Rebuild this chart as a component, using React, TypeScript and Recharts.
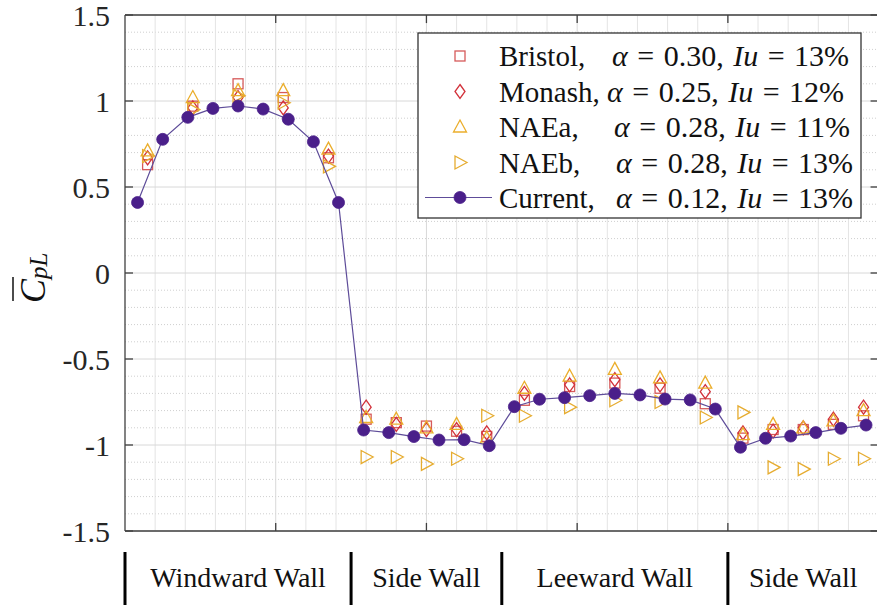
import React from 'react';
import { ScatterChart, Scatter, XAxis, YAxis, ReferenceLine } from 'recharts';

// ---------- data ----------
const currentX = [1, 2, 3, 4, 5, 6, 7, 8, 9, 10, 11, 12, 13, 14, 15, 16, 17, 18, 19, 20, 21, 22, 23, 24, 25, 26, 27, 28, 29, 30];
const currentCp = [0.41, 0.777, 0.905, 0.957, 0.971, 0.953, 0.894, 0.763, 0.41,
  -0.913, -0.928, -0.951, -0.971, -0.969, -1.004,
  -0.777, -0.734, -0.725, -0.713, -0.7, -0.709, -0.733, -0.738, -0.791,
  -1.013, -0.961, -0.948, -0.928, -0.903, -0.884];

const expX = [1.4, 3.2, 5, 6.8, 8.6, 10.1, 11.3, 12.5, 13.7, 14.9, 16.4, 18.2, 20, 21.8, 23.6, 25.1, 26.3, 27.5, 28.7, 29.9];
const bristolCp = [0.63, 0.97, 1.1, 1.02, 0.67, -0.85, -0.87, -0.89, -0.92, -0.95, -0.74, -0.66, -0.64, -0.67, -0.76, -0.96, -0.91, -0.91, -0.88, -0.83];
const monashCp = [0.67, 0.96, 1.02, 0.96, 0.68, -0.78, -0.88, -0.91, -0.91, -0.93, -0.7, -0.65, -0.62, -0.65, -0.69, -0.93, -0.92, -0.9, -0.85, -0.78];
const naeaCp = [0.71, 1.02, 1.06, 1.06, 0.72, -0.84, -0.85, -0.9, -0.88, -0.96, -0.67, -0.6, -0.56, -0.61, -0.64, -0.94, -0.88, -0.9, -0.86, -0.8];
const naebCp = [0.68, 0.95, 1.03, 0.99, 0.62, -1.07, -1.07, -1.11, -1.08, -0.83, -0.83, -0.78, -0.74, -0.75, -0.84, -0.81, -1.13, -1.14, -1.08, -1.08];

const yTicks = [-1.5, -1, -0.5, 0, 0.5, 1, 1.5];
const yMinorTicks = [-1.4, -1.3, -1.2, -1.1, -0.9, -0.8, -0.7, -0.6, -0.4, -0.3, -0.2, -0.1, 0.1, 0.2, 0.3, 0.4, 0.6, 0.7, 0.8, 0.9, 1.1, 1.2, 1.3, 1.4];
const xMajorTicks = [6.5, 12.5, 18.5, 24.5];
const xMinorTicks = [1.7, 2.9, 4.1, 5.3, 7.7, 8.9, 10.1, 11.3, 13.7, 14.9, 16.1, 17.3, 19.7, 20.9, 22.1, 23.3, 25.7, 26.9, 28.1, 29.3];
const wallNames = ['Windward Wall', 'Side Wall', 'Leeward Wall', 'Side Wall'];
const wallCenters = [5, 12.5, 20, 27.5];
const wallBounds = [0.5, 9.5, 15.5, 24.5];

const legendNames = ['Bristol,', 'Monash,', 'NAEa,', 'NAEb,', 'Current,'];
const legendAlpha = ['0.30', '0.25', '0.28', '0.28', '0.12'];
const legendIu = ['13%', '12%', '11%', '13%', '13%'];

// ---------- styles ----------
const FONT = '"Liberation Serif", "Times New Roman", serif';
const C_BRISTOL = '#D65A5A';
const C_MONASH = '#D2313A';
const C_NAEA = '#EBAE2C';
const C_NAEB = '#E6AC30';
const C_CUR = '#4A1F8A';
const C_CURLINE = '#5E4C99';
const AX = '#404040';

const X0 = 0.5, X1 = 30.5, Y0 = -1.5, Y1 = 1.5;

const toPts = (xs: number[], ys: number[]) => xs.map((x, i) => ({ x, y: ys[i] }));
const bristolData = toPts(expX, bristolCp);
const monashData = toPts(expX, monashCp);
const naeaData = toPts(expX, naeaCp);
const naebData = toPts(expX, naebCp);
const currentData = toPts(currentX, currentCp);

const SquareM = (p: any) => <rect x={p.cx - 5} y={p.cy - 5} width={10} height={10} fill="none" stroke={C_BRISTOL} strokeWidth={1.3} />;
const DiamondM = (p: any) => <path d={`M${p.cx},${p.cy - 7} L${p.cx + 5},${p.cy} L${p.cx},${p.cy + 7} L${p.cx - 5},${p.cy} Z`} fill="none" stroke={C_MONASH} strokeWidth={1.3} />;
const TriUpM = (p: any) => <path d={`M${p.cx},${p.cy - 7} L${p.cx + 6.5},${p.cy + 5} L${p.cx - 6.5},${p.cy + 5} Z`} fill="none" stroke={C_NAEA} strokeWidth={1.3} />;
const TriRightM = (p: any) => <path d={`M${p.cx + 7},${p.cy} L${p.cx - 5},${p.cy + 6.5} L${p.cx - 5},${p.cy - 6.5} Z`} fill="none" stroke={C_NAEB} strokeWidth={1.3} />;
const CircleM = (p: any) => <circle cx={p.cx} cy={p.cy} r={6} fill={C_CUR} stroke={C_CUR} strokeWidth={0.8} />;

const WallTick = (props: any) => {
  const { x, y, payload } = props;
  const v = payload.value;
  const bi = wallBounds.indexOf(v);
  if (bi >= 0) {
    return <rect x={x - 1.5} y={y + 21} width={3} height={60} fill="#000" />;
  }
  const ci = wallCenters.indexOf(v);
  return (
    <text x={x} y={y + 56} textAnchor="middle" fontFamily={FONT} fontSize={28} fill="#111">
      {wallNames[ci]}
    </text>
  );
};

const legendBaselines = [34, 69.5, 105, 140.5, 175.5];
const legendAlphaX = [195, 190, 197, 199, 199];

const LegendBox = () => (
  <svg width={445} height={187} style={{ position: 'absolute', left: 417, top: 32 }}>
    <rect x={1} y={1} width={443} height={185} fill="#fff" stroke="#333" strokeWidth={1.3} />
    {legendNames.map((n, i) => {
      const by = legendBaselines[i];
      const cy = by - 11 + 1;
      const cx = 43;
      let marker: any = null;
      if (i === 0) marker = <SquareM cx={cx} cy={cy} />;
      if (i === 1) marker = <DiamondM cx={cx} cy={cy} />;
      if (i === 2) marker = <TriUpM cx={cx} cy={cy} />;
      if (i === 3) marker = <TriRightM cx={cx} cy={cy} />;
      if (i === 4) marker = (
        <g>
          <line x1={8} x2={75} y1={cy} y2={cy} stroke={C_CURLINE} strokeWidth={1.2} />
          <CircleM cx={cx} cy={cy} />
        </g>
      );
      return (
        <g key={i}>
          {marker}
          <text x={82} y={by} fontFamily={FONT} fontSize={29} fill="#111">{n}</text>
          <text x={legendAlphaX[i]} y={by} fontFamily={FONT} fontSize={30} fill="#111" wordSpacing={2}>
            <tspan fontStyle="italic">α</tspan>
            <tspan> = {legendAlpha[i]}, </tspan>
            <tspan fontStyle="italic">Iu</tspan>
            <tspan> = {legendIu[i]}</tspan>
          </text>
        </g>
      );
    })}
  </svg>
);

const YLabel = () => (
  <svg width={80} height={605} style={{ position: 'absolute', left: 0, top: 0 }}>
    <g transform="translate(45, 303) rotate(-90)">
      <text x={0} y={0} fontFamily={FONT} fontSize={36} fontStyle="italic" fill="#111">
        C<tspan fontSize={25} dy={2}>pL</tspan>
      </text>
      <line x1={2} x2={26} y1={-32} y2={-32} stroke="#111" strokeWidth={1.5} />
    </g>
  </svg>
);

export default function App() {
  const tickLenX = 0.32;
  const tickLenY = 0.047;
  return (
    <div style={{ position: 'absolute', left: 0, top: 0, width: 877, height: 605, overflow: 'hidden', background: '#fff' }}>
      <ScatterChart width={880} height={605} margin={{ top: 15, right: 1.4, bottom: 0, left: 0 }}>
        <XAxis
          type="number"
          dataKey="x"
          domain={[X0, X1]}
          allowDataOverflow
          ticks={[0.5, 5, 9.5, 12.5, 15.5, 20, 24.5, 27.5]}
          interval={0}
          tick={<WallTick />}
          axisLine={false}
          tickLine={false}
          tickSize={0}
          tickMargin={0}
          height={74}
        />
        <YAxis
          type="number"
          dataKey="y"
          domain={[Y0, Y1]}
          allowDataOverflow
          ticks={yTicks}
          interval={0}
          axisLine={false}
          tickLine={false}
          tickSize={0}
          tickMargin={15}
          width={125}
          tick={{ fontFamily: FONT, fontSize: 30, fill: '#262626' }}
          tickFormatter={(v: number) => String(v)}
        />
        {yMinorTicks.map((v) => (
          <ReferenceLine key={'ym' + v} y={v} stroke="#CFCFCF" strokeDasharray="1 2" strokeWidth={1} />
        ))}
        {xMinorTicks.map((v) => (
          <ReferenceLine key={'xm' + v} x={v} stroke="#E4E4E4" strokeWidth={1} />
        ))}
        {yTicks.map((v) => (
          <ReferenceLine key={'yM' + v} y={v} stroke="#D8D8D8" strokeWidth={1} />
        ))}
        {xMajorTicks.map((v) => (
          <ReferenceLine key={'xM' + v} x={v} stroke="#D8D8D8" strokeWidth={1} />
        ))}
        <ReferenceLine x={X0} stroke={AX} strokeWidth={1.3} />
        <ReferenceLine x={X1} stroke={AX} strokeWidth={1.3} />
        <ReferenceLine y={Y0} stroke={AX} strokeWidth={1.3} />
        <ReferenceLine y={Y1} stroke={AX} strokeWidth={1.3} />
        {yTicks.map((v) => (
          <ReferenceLine key={'tl' + v} segment={[{ x: X0, y: v }, { x: X0 + tickLenX, y: v }]} stroke={AX} strokeWidth={1.3} />
        ))}
        {yTicks.map((v) => (
          <ReferenceLine key={'tr' + v} segment={[{ x: X1 - tickLenX, y: v }, { x: X1, y: v }]} stroke={AX} strokeWidth={1.3} />
        ))}
        {xMajorTicks.map((v) => (
          <ReferenceLine key={'tb' + v} segment={[{ x: v, y: Y0 }, { x: v, y: Y0 + tickLenY }]} stroke={AX} strokeWidth={1.3} />
        ))}
        {xMajorTicks.map((v) => (
          <ReferenceLine key={'tt' + v} segment={[{ x: v, y: Y1 }, { x: v, y: Y1 - tickLenY }]} stroke={AX} strokeWidth={1.3} />
        ))}
        <Scatter name="Bristol" data={bristolData} shape={<SquareM />} isAnimationActive={false} />
        <Scatter name="Monash" data={monashData} shape={<DiamondM />} isAnimationActive={false} />
        <Scatter name="NAEa" data={naeaData} shape={<TriUpM />} isAnimationActive={false} />
        <Scatter name="NAEb" data={naebData} shape={<TriRightM />} isAnimationActive={false} />
        <Scatter
          name="Current"
          data={currentData}
          shape={<CircleM />}
          line={{ stroke: C_CURLINE, strokeWidth: 1.2 }}
          isAnimationActive={false}
        />
      </ScatterChart>
      <LegendBox />
      <YLabel />
    </div>
  );
}
